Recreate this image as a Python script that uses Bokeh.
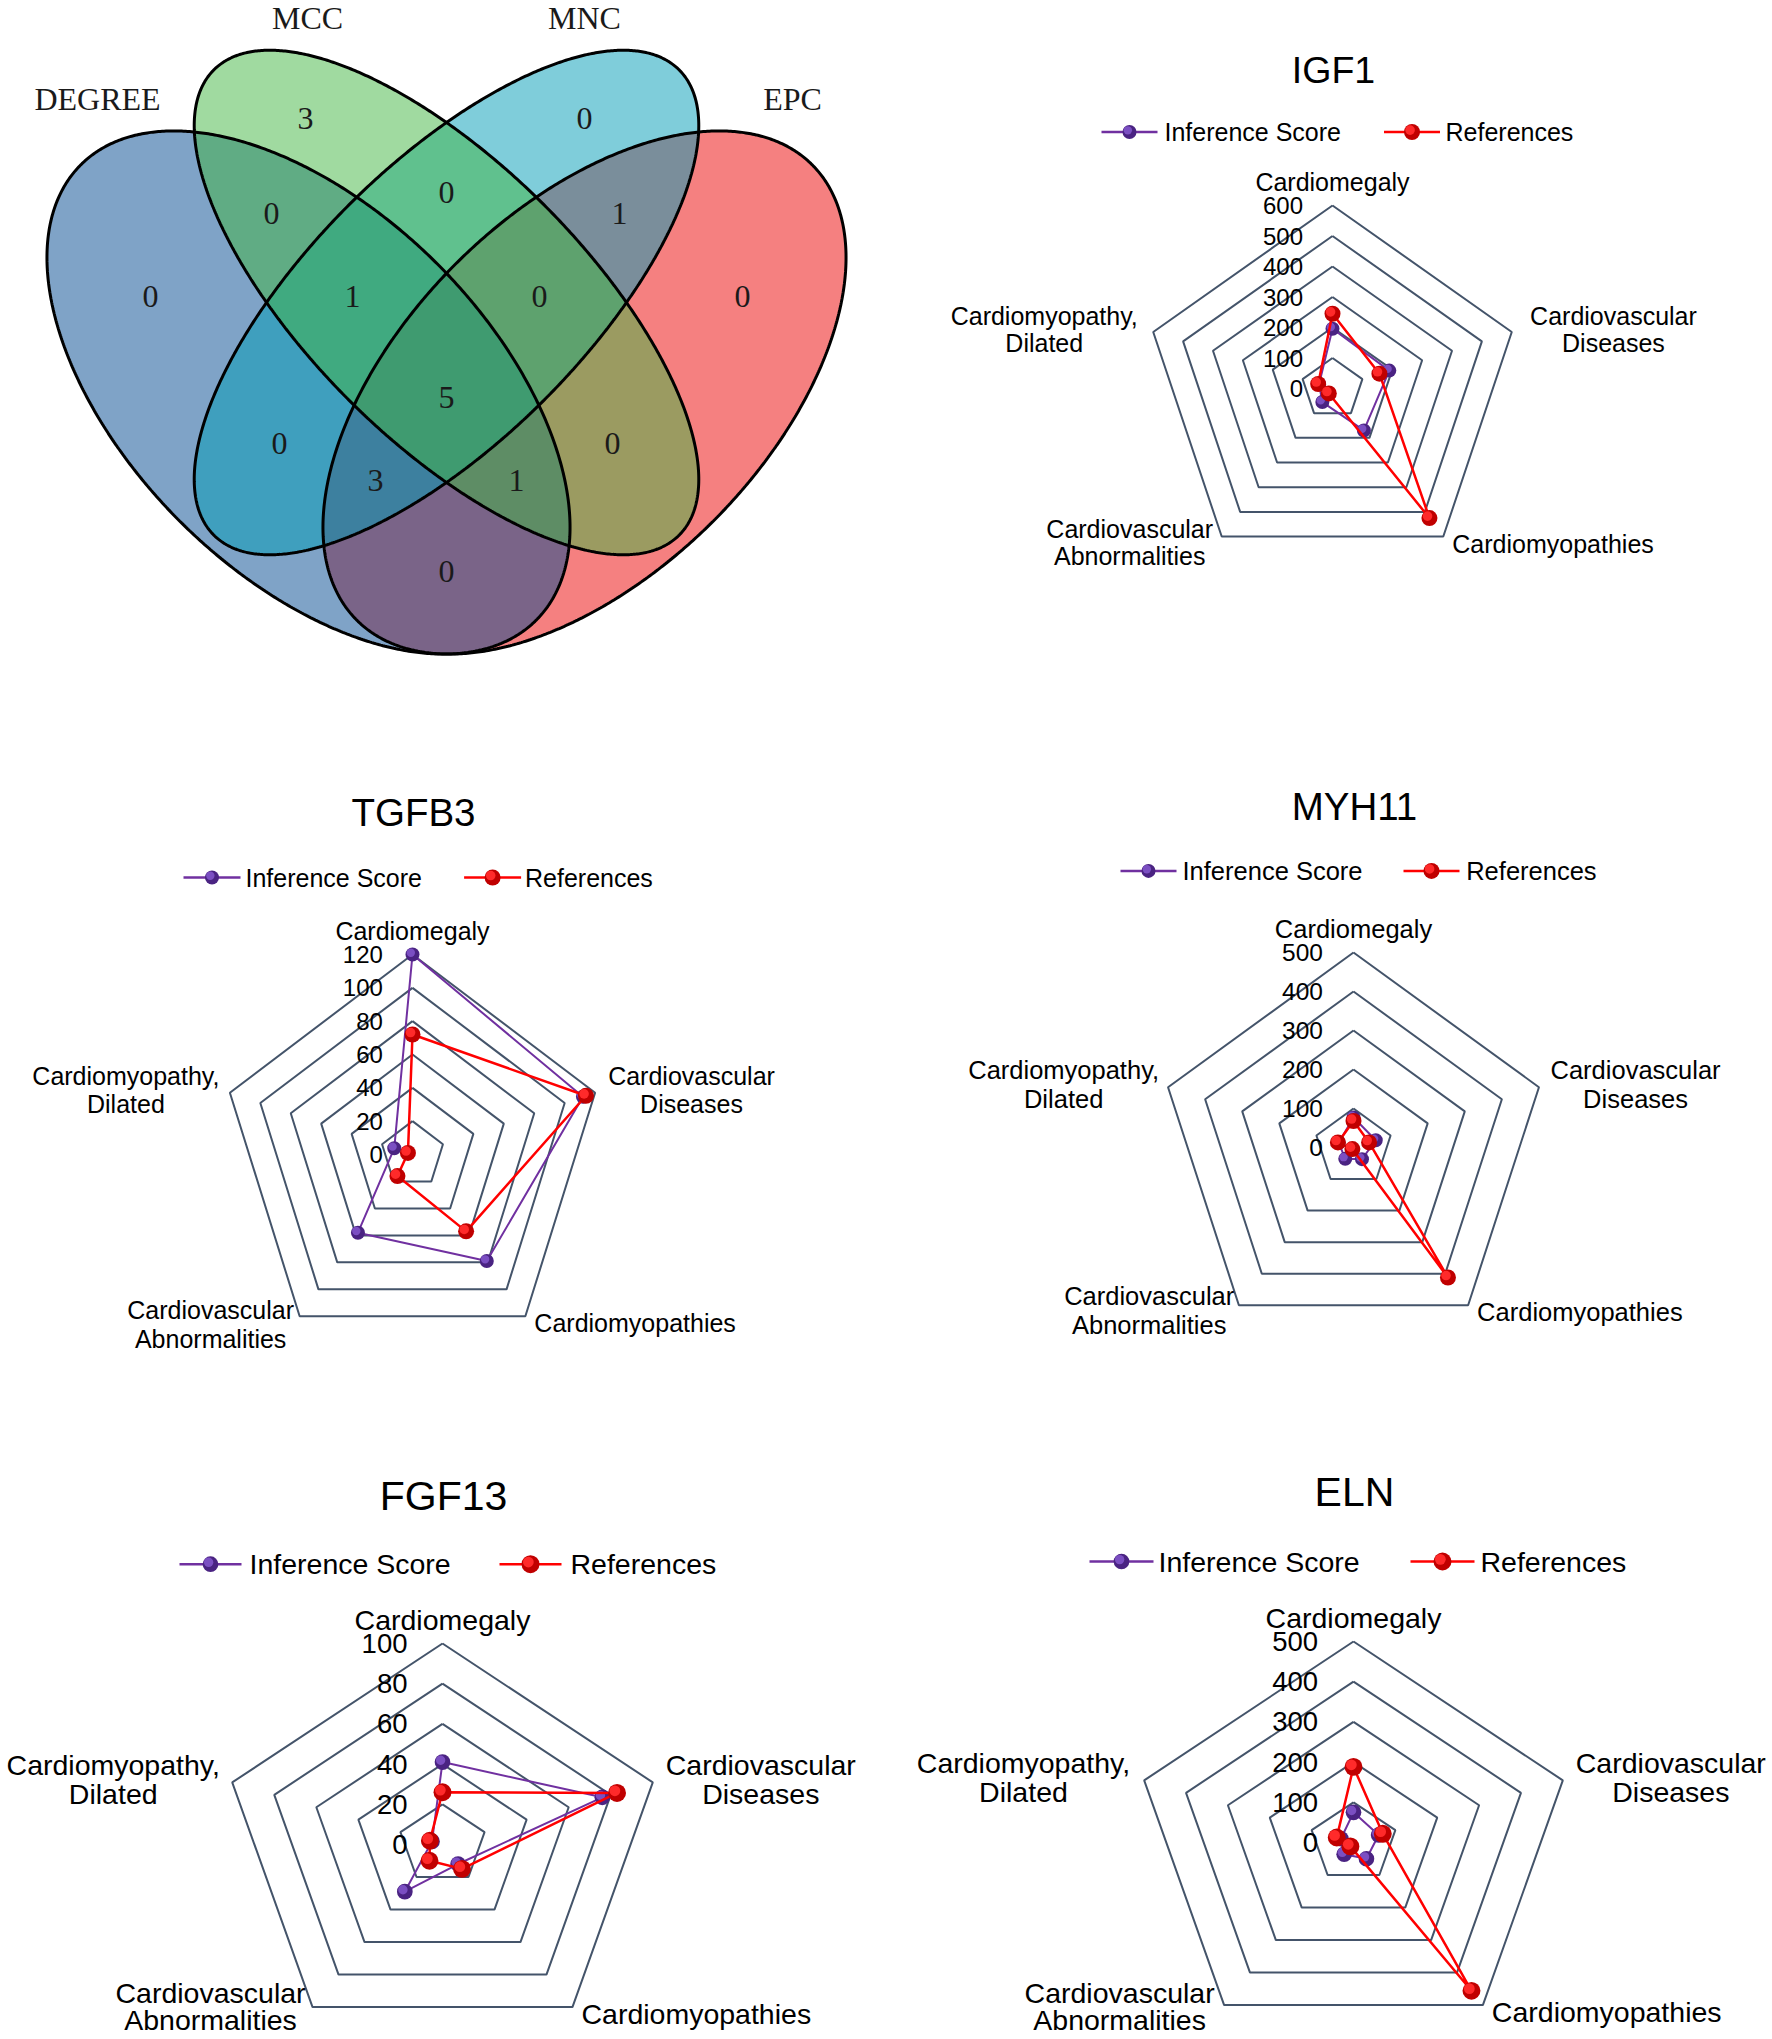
import numpy as np
from bokeh.plotting import figure
from bokeh.models import Range1d
from bokeh.core.properties import value
from bokeh.embed import file_html
from bokeh.resources import INLINE

# ---------------- data ----------------
venn_sets = ["DEGREE", "MCC", "MNC", "EPC"]
venn_regions = ["MCC", "MNC", "DEGREE&MCC", "MCC&MNC", "MNC&EPC", "DEGREE",
                "DEGREE&MCC&MNC", "MCC&MNC&EPC", "EPC", "DEGREE&MCC&MNC&EPC",
                "DEGREE&MNC", "MCC&EPC", "DEGREE&MNC&EPC", "DEGREE&MCC&EPC", "DEGREE&EPC"]
venn_counts = [3, 0, 0, 0, 1, 0, 1, 0, 0, 5, 0, 0, 3, 1, 0]

categories = ["Cardiomegaly", "Cardiovascular Diseases", "Cardiomyopathies",
              "Cardiovascular Abnormalities", "Cardiomyopathy, Dilated"]
genes = ["IGF1", "TGFB3", "MYH11", "FGF13", "ELN"]
series_names = ["Inference Score", "References"]

igf1_inference = [196, 190, 170, 55, 45]
igf1_references = [245, 157, 525, 20, 48]
tgfb3_inference = [120, 112, 79, 58, 12]
tgfb3_references = [72, 114, 57, 16, 3]
myh11_inference = [77, 60, 37, 36, 40]
myh11_references = [68, 42, 412, 5, 42]
fgf13_inference = [41, 76, 12, 29, 5]
fgf13_references = [26, 83, 15, 10, 6]
eln_inference = [75, 60, 50, 36, 30]
eln_references = [188, 70, 456, 12, 40]

igf1_ticks = [0, 100, 200, 300, 400, 500, 600]
tgfb3_ticks = [0, 20, 40, 60, 80, 100, 120]
myh11_ticks = [0, 100, 200, 300, 400, 500]
fgf13_ticks = [0, 20, 40, 60, 80, 100]
eln_ticks = [0, 100, 200, 300, 400, 500]

# ---------------- layout / styles ----------------
W, H = 1772, 2039
p = figure(width=W, height=H, x_range=Range1d(0, W), y_range=Range1d(H, 0),
           output_backend="svg", toolbar_location=None, min_border=0,
           x_axis_type=None, y_axis_type=None)
p.xgrid.visible = False
p.ygrid.visible = False
p.outline_line_color = None
p.background_fill_color = "white"
p.border_fill_color = "white"

SANS = value("Liberation Sans")
SERIF = value("Liberation Serif")

# ---- Venn diagram ----
venn_geom = {  # cx, cy, semi-major, semi-minor, angle (deg, screen)
    "DEGREE": (308, 392, 322, 182, 45),
    "MCC": (446, 302, 329, 138, 45),
    "MNC": (446, 302, 329, 138, -45),
    "EPC": (584, 392, 322, 182, -45),
}
venn_colors = {"DEGREE": "#00478F", "MCC": "#41B541", "MNC": "#009BB5", "EPC": "#EB0101"}
draw_order = ["EPC", "DEGREE", "MNC", "MCC"]
set_label_pos = {"DEGREE": (97, 98), "MCC": (307, 17), "MNC": (584, 17), "EPC": (792, 98)}
region_pos = {
    "MCC": (305, 118), "MNC": (584, 118), "DEGREE&MCC": (271, 213), "MCC&MNC": (446, 192),
    "MNC&EPC": (619, 213), "DEGREE": (150, 296), "DEGREE&MCC&MNC": (352, 296),
    "MCC&MNC&EPC": (539, 296), "EPC": (742, 296), "DEGREE&MCC&MNC&EPC": (446, 397),
    "DEGREE&MNC": (279, 443), "MCC&EPC": (612, 443), "DEGREE&MNC&EPC": (375, 480),
    "DEGREE&MCC&EPC": (516, 480), "DEGREE&EPC": (446, 571),
}

t = np.linspace(0, 2 * np.pi, 721)


def ellipse_pts(s):
    cx, cy, a, b, ang = venn_geom[s]
    th = np.radians(ang)
    xs = cx + a * np.cos(t) * np.cos(th) - b * np.sin(t) * np.sin(th)
    ys = cy + a * np.cos(t) * np.sin(th) + b * np.sin(t) * np.cos(th)
    return xs, ys


for s in draw_order:
    xs, ys = ellipse_pts(s)
    p.patch(xs, ys, fill_color=venn_colors[s], fill_alpha=0.5, line_color=None)
for s in draw_order:
    xs, ys = ellipse_pts(s)
    p.line(xs, ys, line_color="black", line_width=3)

p.text(x=[set_label_pos[s][0] for s in venn_sets], y=[set_label_pos[s][1] for s in venn_sets],
       text=venn_sets, text_align="center", text_baseline="middle",
       text_font=SERIF, text_font_size="32px", text_color="#1a1a1a")
p.text(x=[region_pos[r][0] for r in venn_regions], y=[region_pos[r][1] for r in venn_regions],
       text=[str(c) for c in venn_counts], text_align="center", text_baseline="middle",
       text_font=SERIF, text_font_size="32px", text_color="#1a1a1a")

# ---- Radar charts ----
panels = [
    dict(gene="IGF1", inf=igf1_inference, ref=igf1_references, ticks=igf1_ticks,
         cx=1332, cy=388, R=183, sx=1.03, fs=25, tfs=37.5, ms=1.0,
         title_dy=-319, leg_dy=-256.5, leg=(-231, 56, -168, 51.5, 113),
         toff=29.5, lh=27, dxr=101.7, dxl=-109, dxbl=-92, abn_dy=6, abn_lh=27),
    dict(gene="TGFB3", inf=tgfb3_inference, ref=tgfb3_references, ticks=tgfb3_ticks,
         cx=412, cy=1154, R=200, sx=0.96, fs=25, tfs=38.5, ms=1.0,
         title_dy=-342.5, leg_dy=-277, leg=(-229, 57, -167, 51.6, 112.5),
         toff=29.6, lh=28, dxr=96.4, dxl=-104, dxbl=-89, abn_dy=8, abn_lh=29),
    dict(gene="MYH11", inf=myh11_inference, ref=myh11_references, ticks=myh11_ticks,
         cx=1353, cy=1147, R=195, sx=1.0, fs=25.5, tfs=38.5, ms=1.0,
         title_dy=-341.4, leg_dy=-276.6, leg=(-233, 56, -171, 50, 112.7),
         toff=30.6, lh=28.5, dxr=96.6, dxl=-104.4, dxbl=-89.7, abn_dy=5, abn_lh=29),
    dict(gene="FGF13", inf=fgf13_inference, ref=fgf13_references, ticks=fgf13_ticks,
         cx=442, cy=1844, R=201, sx=1.1, fs=28.5, tfs=41, ms=1.12,
         title_dy=-348.3, leg_dy=-280.3, leg=(-263, 62, -193, 57, 128),
         toff=35, lh=28.8, dxr=108, dxl=-119, dxbl=-102, abn_dy=-1, abn_lh=27),
    dict(gene="ELN", inf=eln_inference, ref=eln_references, ticks=eln_ticks,
         cx=1353, cy=1842, R=201, sx=1.095, fs=28.5, tfs=41, ms=1.12,
         title_dy=-350.2, leg_dy=-281, leg=(-264, 64, -195, 57, 127),
         toff=35.4, lh=28.8, dxr=108, dxl=-120.7, dxbl=-104.5, abn_dy=1, abn_lh=27),
]

GRID = "#44546A"
PUR_LINE, PUR_BASE, PUR_HI = "#7030A0", "#4A2382", "#7B4FC2"
RED_LINE, RED_BASE, RED_HI = "#FF0000", "#C00000", "#FF2A2A"


def sphere(xs, ys, base, hi, size):
    xs = np.asarray(xs, dtype=float)
    ys = np.asarray(ys, dtype=float)
    p.scatter(xs, ys, size=size, fill_color=base, line_color=None)
    off = size * 0.12
    p.scatter(xs - off, ys - off, size=size * 0.6, fill_color=hi, line_color=None)


for P in panels:
    cx, cy, R, sx = P["cx"], P["cy"], P["R"], P["sx"]
    ticks = P["ticks"]
    vmax = ticks[-1]
    fs = P["fs"]
    ang = np.radians(np.arange(5) * 72.0)

    def pts(vals):
        r = R * np.asarray(vals, dtype=float) / vmax
        return cx + sx * r * np.sin(ang), cy - r * np.cos(ang)

    # rings
    for tv in ticks[1:]:
        xs, ys = pts([tv] * 5)
        p.line(np.append(xs, xs[0]), np.append(ys, ys[0]), line_color=GRID, line_width=2)

    # tick labels
    p.text(x=[cx - P["toff"]] * len(ticks), y=[cy - R * tv / vmax for tv in ticks],
           text=[str(tv) for tv in ticks], text_align="right", text_baseline="middle",
           text_font=SANS, text_font_size=f"{fs - 1}px", text_color="black")

    # category labels
    vx, vy = pts([vmax] * 5)
    lh = P["lh"]
    alh = P["abn_lh"]
    lines = [c.split(" ") for c in categories]
    p.text(x=[vx[0]], y=[vy[0] - 24], text=[categories[0]], text_align="center",
           text_baseline="middle", text_font=SANS, text_font_size=f"{fs}px", text_color="black")
    p.text(x=[vx[1] + P["dxr"]] * 2, y=[vy[1] - 2.5 - lh / 2, vy[1] - 2.5 + lh / 2],
           text=lines[1], text_align="center", text_baseline="middle",
           text_font=SANS, text_font_size=f"{fs}px", text_color="black")
    p.text(x=[vx[2] + 9], y=[vy[2] + 7], text=[categories[2]], text_align="left",
           text_baseline="middle", text_font=SANS, text_font_size=f"{fs}px", text_color="black")
    p.text(x=[vx[3] + P["dxbl"]] * 2,
           y=[vy[3] + P["abn_dy"] - alh / 2, vy[3] + P["abn_dy"] + alh / 2],
           text=lines[3], text_align="center", text_baseline="middle",
           text_font=SANS, text_font_size=f"{fs}px", text_color="black")
    p.text(x=[vx[4] + P["dxl"]] * 2, y=[vy[4] - 2.5 - lh / 2, vy[4] - 2.5 + lh / 2],
           text=lines[4], text_align="center", text_baseline="middle",
           text_font=SANS, text_font_size=f"{fs}px", text_color="black")

    # series
    ms = P["ms"]
    xs, ys = pts(P["inf"])
    p.line(np.append(xs, xs[0]), np.append(ys, ys[0]), line_color=PUR_LINE, line_width=2)
    sphere(xs, ys, PUR_BASE, PUR_HI, 14 * ms)
    xs, ys = pts(P["ref"])
    p.line(np.append(xs, xs[0]), np.append(ys, ys[0]), line_color=RED_LINE, line_width=2.5)
    sphere(xs, ys, RED_BASE, RED_HI, 16 * ms)

    # title
    p.text(x=[cx + 1], y=[cy + P["title_dy"]], text=[P["gene"]], text_align="center",
           text_baseline="middle", text_font=SANS, text_font_size=f"{P['tfs']}px",
           text_color="black")

    # legend
    pl0, llen, pt, rl0, rt = P["leg"]
    ly = cy + P["leg_dy"]
    p.line([cx + pl0, cx + pl0 + llen], [ly, ly], line_color=PUR_LINE, line_width=2.5)
    sphere([cx + pl0 + llen / 2], [ly], PUR_BASE, PUR_HI, 14 * ms)
    p.line([cx + rl0, cx + rl0 + llen], [ly, ly], line_color=RED_LINE, line_width=2.5)
    sphere([cx + rl0 + llen / 2], [ly], RED_BASE, RED_HI, 16 * ms)
    p.text(x=[cx + pt, cx + rt], y=[ly, ly], text=series_names, text_align="left",
           text_baseline="middle", text_font=SANS, text_font_size=f"{fs}px", text_color="black")

open("out.html", "w").write(file_html(p, INLINE))
